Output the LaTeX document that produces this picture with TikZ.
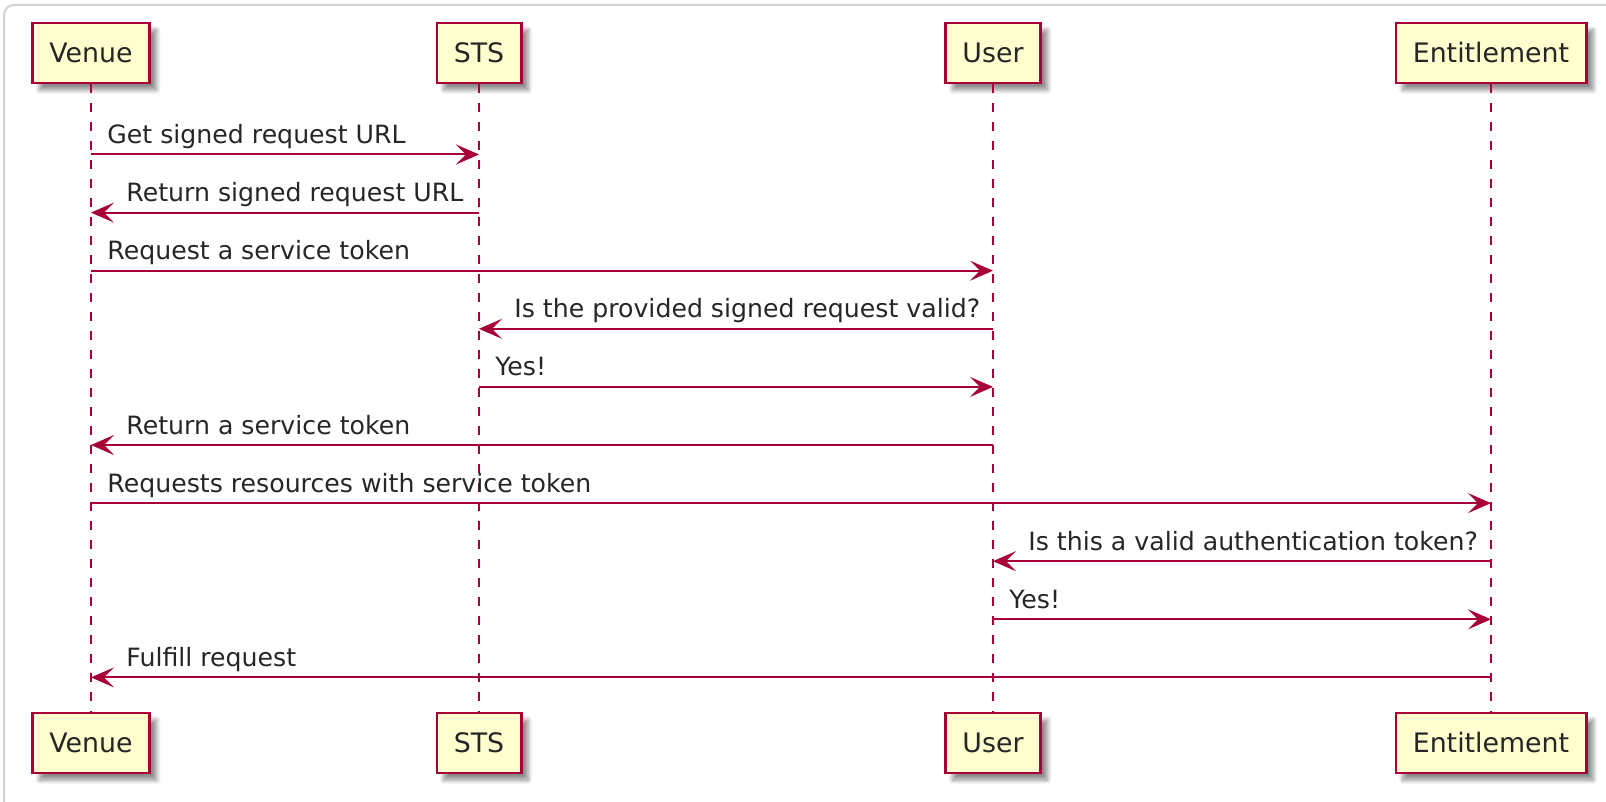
\documentclass[tikz,border=0pt]{standalone}
\usepackage{fontspec}
\setmainfont{DejaVu Sans}
\usetikzlibrary{arrows.meta,shadows.blur}

\definecolor{umlred}{HTML}{A80036}
\definecolor{umlfill}{HTML}{FEFECE}
\definecolor{framegray}{HTML}{D3D3D3}

\tikzset{
  actor/.style={draw=umlred, fill=umlfill, line width=1.3pt, inner xsep=8.5pt,
    minimum height=30pt, text=black!85,
    font=\fontsize{13.4}{16}\selectfont,
    blur shadow={shadow xshift=3.5pt, shadow yshift=-3.5pt, shadow blur steps=8, shadow opacity=45}},
  lifeline/.style={draw=umlred, line width=1pt, dash pattern=on 4.5pt off 5pt},
  msg/.style={draw=umlred, line width=1pt, -{Stealth[length=11.5pt,width=10pt,inset=5pt]}},
  msgtext/.style={anchor=base west, inner sep=0pt, text=black!85,
    font=\fontsize{12.6}{15}\selectfont}
}

\begin{document}
\begin{tikzpicture}[x=0.5pt,y=-0.5pt]
\useasboundingbox (0,0) rectangle (1606,802);
\clip (0,0) rectangle (1606,802);
\draw[framegray, line width=1pt, rounded corners=5pt] (4,5) rectangle (1640,840);

% participants
\node[actor] (venueT) at (91,53) {Venue};
\node[actor] (stsT) at (479,53) {STS};
\node[actor] (userT) at (993,53) {User};
\node[actor] (entT) at (1491,53) {Entitlement};
\node[actor] (venueB) at (91,743) {Venue};
\node[actor] (stsB) at (479,743) {STS};
\node[actor] (userB) at (993,743) {User};
\node[actor] (entB) at (1491,743) {Entitlement};

% lifelines
\draw[lifeline] (venueT.south) -- (venueB.north);
\draw[lifeline] (stsT.south) -- (stsB.north);
\draw[lifeline] (userT.south) -- (userB.north);
\draw[lifeline] (entT.south) -- (entB.north);

% message rows
\coordinate (r1) at (0,154.5);
\coordinate (r2) at (0,212.6);
\coordinate (r3) at (0,270.7);
\coordinate (r4) at (0,328.8);
\coordinate (r5) at (0,386.9);
\coordinate (r6) at (0,445.0);
\coordinate (r7) at (0,503.1);
\coordinate (r8) at (0,561.2);
\coordinate (r9) at (0,619.3);
\coordinate (r10) at (0,677.4);

\draw[msg] (venueT |- r1) -- (stsT |- r1);
\node[msgtext] (t1) at ([shift={(16,-11)}]venueT |- r1) {Get signed request URL};
\draw[msg] (stsT |- r2) -- (venueT |- r2);
\node[msgtext] (t2) at ([shift={(35,-11)}]venueT |- r2) {Return signed request URL};
\draw[msg] (venueT |- r3) -- (userT |- r3);
\node[msgtext] (t3) at ([shift={(16,-11)}]venueT |- r3) {Request a service token};
\draw[msg] (userT |- r4) -- (stsT |- r4);
\node[msgtext] (t4) at ([shift={(35,-11)}]stsT |- r4) {Is the provided signed request valid?};
\draw[msg] (stsT |- r5) -- (userT |- r5);
\node[msgtext] (t5) at ([shift={(16,-11)}]stsT |- r5) {Yes!};
\draw[msg] (userT |- r6) -- (venueT |- r6);
\node[msgtext] (t6) at ([shift={(35,-11)}]venueT |- r6) {Return a service token};
\draw[msg] (venueT |- r7) -- (entT |- r7);
\node[msgtext] (t7) at ([shift={(16,-11)}]venueT |- r7) {Requests resources with service token};
\draw[msg] (entT |- r8) -- (userT |- r8);
\node[msgtext] (t8) at ([shift={(35,-11)}]userT |- r8) {Is this a valid authentication token?};
\draw[msg] (userT |- r9) -- (entT |- r9);
\node[msgtext] (t9) at ([shift={(16,-11)}]userT |- r9) {Yes!};
\draw[msg] (entT |- r10) -- (venueT |- r10);
\node[msgtext] (t10) at ([shift={(35,-11)}]venueT |- r10) {Fulfill request};
\end{tikzpicture}
\end{document}
